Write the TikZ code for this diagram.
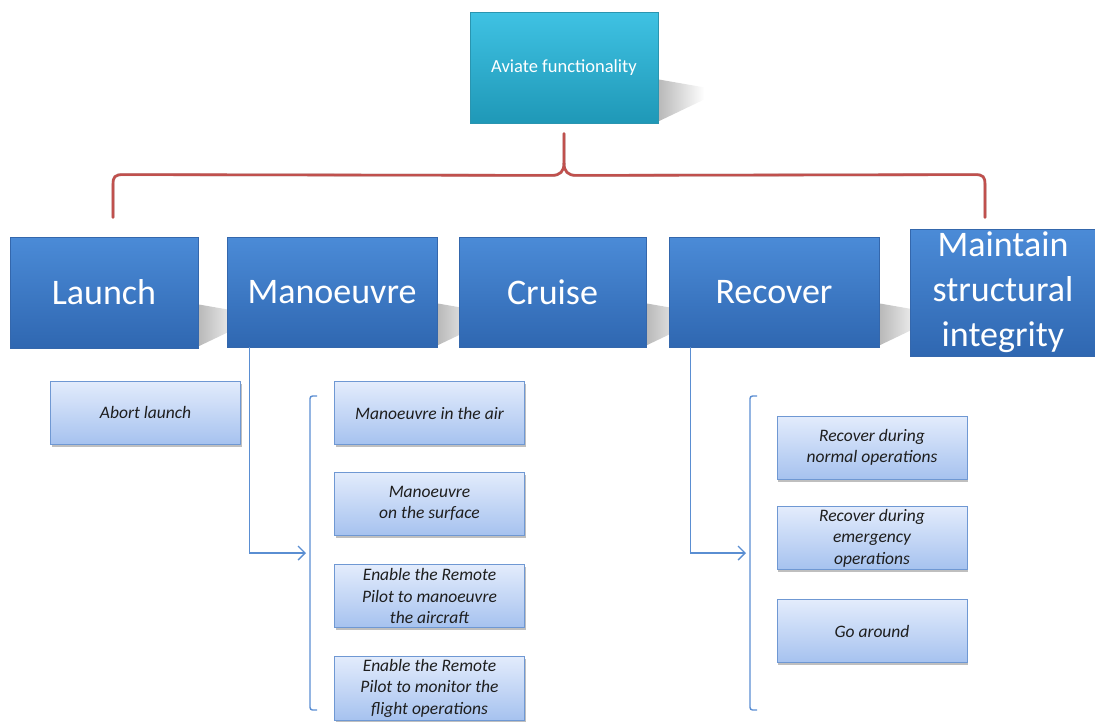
\documentclass[tikz,border=0pt]{standalone}
\usepackage{fontspec}
\setmainfont{Carlito}
\usetikzlibrary{arrows.meta,shadows,fadings,calc,backgrounds}

\definecolor{mainTop}{HTML}{4B8BD7}
\definecolor{mainBot}{HTML}{2F67B1}
\definecolor{mainEdge}{HTML}{3467AC}
\definecolor{tealTop}{HTML}{3FC2E3}
\definecolor{tealBot}{HTML}{1F98B7}
\definecolor{tealEdge}{HTML}{2A95B0}
\definecolor{subTop}{HTML}{E3ECFC}
\definecolor{subBot}{HTML}{A6C2EF}
\definecolor{subEdge}{HTML}{6F98D3}
\definecolor{linkBlue}{HTML}{5A8ED2}
\definecolor{braceRed}{HTML}{C0504D}
\definecolor{subText}{HTML}{1E1E1E}

\tikzset{
  mainbox/.style={rectangle, inner sep=0pt, draw=mainEdge, line width=0.8pt,
    top color=mainTop, bottom color=mainBot, text=white,
    font=\fontsize{36}{45}\selectfont, align=center},
  rootbox/.style={rectangle, inner sep=0pt, draw=tealEdge, line width=0.8pt,
    top color=tealTop, bottom color=tealBot, text=white,
    minimum width=188pt, minimum height=111pt,
    font=\fontsize{18.5}{22}\selectfont},
  subbox/.style={rectangle, inner sep=0pt, draw=subEdge, line width=1pt,
    top color=subTop, bottom color=subBot, text=subText,
    minimum width=190pt, minimum height=63pt, align=center,
    font=\itshape\fontsize{17.5}{21.5}\selectfont,
    drop shadow={shadow xshift=1pt, shadow yshift=-2.5pt, fill=black, opacity=0.25}},
  link/.style={draw=linkBlue, line width=1.4pt},
  linkarrow/.style={link, -{Straight Barb[length=7pt, width=14pt, line width=1.4pt]}},
  bracketline/.style={link, rounded corners=2.5pt},
  bracepath/.style={draw=braceRed, line width=2.6pt, line cap=round},
  braceshade/.style={draw=black, opacity=0.18, line width=3pt},
  castshade/.style={fill=black!28, path fading=east},
}

% perspective shadow cast to the right of a box
\newcommand\castshadow[1]{%
  \fill[castshade] ($(#1.south east)+(0,-44)$) -- ($(#1.south east)+(46,-36)$)
    -- ($(#1.south east)+(46,-24)$) -- ($(#1.south east)+(0,-2)$) -- cycle;}

\begin{document}
\begin{tikzpicture}[x=1pt, y=-1pt]
\useasboundingbox (0,0) rectangle (1095,721);

% top level
\node[rootbox] (root) at (564,67.5) {Aviate functionality};

% main functions
\node[mainbox, minimum width=188pt, minimum height=111pt] (launch) at (104,292.5) {Launch};
\node[mainbox, minimum width=210pt, minimum height=110pt] (mano) at (332,292) {Manoeuvre};
\node[mainbox, minimum width=187pt, minimum height=110pt] (cruise) at (552.5,292) {Cruise};
\node[mainbox, minimum width=210pt, minimum height=110pt] (recover) at (774,292) {Recover};
\node[mainbox, minimum width=186pt, minimum height=127pt] (maintain) at (1003,292.5)
  {Maintain\\structural\\integrity};

% sub-functions
\node[subbox] (abort) at (145.5,412.5) {Abort launch};
\node[subbox] (mair) at (429.5,413) {Manoeuvre in the air};
\node[subbox] (msurf) at (429.5,503.5) {Manoeuvre\\on the surface};
\node[subbox] (mrpman) at (429.5,596) {Enable the Remote\\Pilot to manoeuvre\\the aircraft};
\node[subbox, minimum height=64pt] (mrpmon) at (429.5,688) {Enable the Remote\\Pilot to monitor the\\flight operations};
\node[subbox] (rnorm) at (872,447.5) {Recover during\\normal operations};
\node[subbox] (remerg) at (872,538) {Recover during\\emergency\\operations};
\node[subbox] (rgo) at (872,631) {Go around};

% cast shadows behind the boxes
\begin{scope}[on background layer]
  \castshadow{root}
  \castshadow{launch}
  \castshadow{mano}
  \castshadow{cruise}
  \castshadow{recover}
\end{scope}

% brace from the top level to the main functions
\coordinate (stem) at ($(root.south)+(0,10)$);
\coordinate (braceL) at ($(launch.north)+(9,-19)$);
\coordinate (braceR) at ($(maintain.north)+(-18,-11)$);
\foreach \s/\k in {braceshade/3, bracepath/0}{
  \begin{scope}[yshift=-\k pt]
  \path[\s] (braceL) -- ++(0,-33) .. controls ++(0,-8) and ++(-8,0) .. ++(10,-10)
    -- ($(stem)+(-12,42)$) .. controls ++(8,0) and ++(0,8) .. ($(stem)+(0,30)$) -- (stem);
  \path[\s] ($(stem)+(0,30)$) .. controls ++(0,8) and ++(-8,0) .. ($(stem)+(12,42)$)
    -- ($(braceR)+(-10,-43)$) .. controls ++(8,0) and ++(0,-8) .. ($(braceR)+(0,-33)$)
    -- (braceR);
  \end{scope}
}

% manoeuvre branch
\coordinate (mtip) at (306,553);
\draw[linkarrow] ($(mano.south west)+(23,0)$) |- (mtip);
\draw[bracketline] (317,396) -- (310,396) -- (310,710) -- (317,710);

% recover branch
\coordinate (rtip) at (746,553);
\draw[linkarrow] ($(recover.south west)+(22,0)$) |- (rtip);
\draw[bracketline] (757,396) -- (750,396) -- (750,710) -- (757,710);
\end{tikzpicture}
\end{document}
